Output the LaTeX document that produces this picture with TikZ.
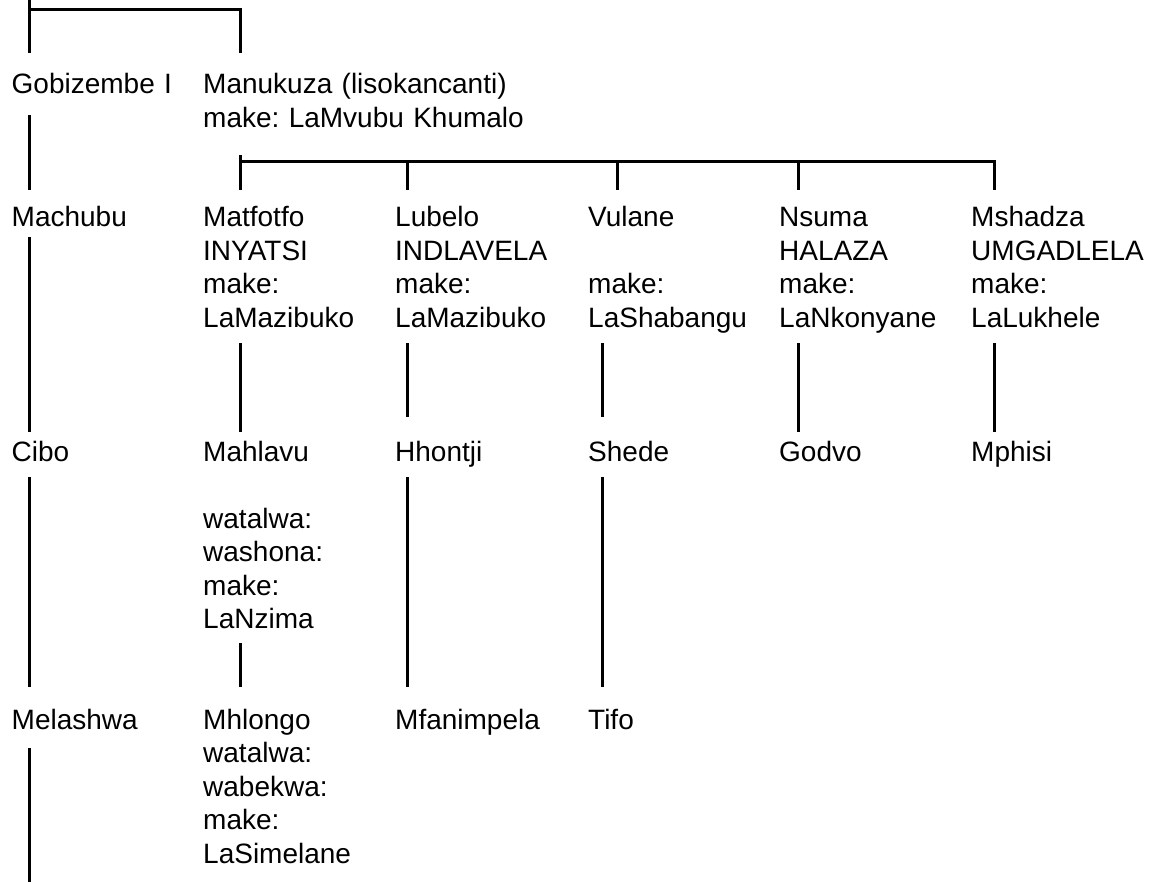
\documentclass[tikz,border=0pt]{standalone}
\usepackage{fontspec}
\setmainfont{Liberation Sans}
\frenchspacing
\tikzset{
	person/.style={anchor=base west, inner sep=0pt, align=left, text width=330pt,
		font=\fontsize{28}{33.5}\selectfont,
		execute at begin node=\strut, execute at end node=\strut},
	link/.style={line width=3pt}
}

\begin{document}
\begin{tikzpicture}[x=1pt,y=-1pt]
		\useasboundingbox (0,0) rectangle (1159,882);
		% First generation
		\node[person] (gob) at (11.5,94) {Gobizembe I};
		\node[person] (manu) at (203,94) {Manukuza (lisokancanti)\\make: LaMvubu Khumalo};
		% Second generation
		\node[person] (mach) at (11.5,227) {Machubu};
		\node[person] (mat) at (203,227) {Matfotfo\\INYATSI\\make:\\LaMazibuko};
		\node[person] (lub) at (395,227) {Lubelo\\INDLAVELA\\make:\\LaMazibuko};
		\node[person] (vul) at (588,227) {Vulane\\\mbox{}\\make:\\LaShabangu};
		\node[person] (nsu) at (779,227) {Nsuma\\HALAZA\\make:\\LaNkonyane};
		\node[person] (msh) at (971,227) {Mshadza\\UMGADLELA\\make:\\LaLukhele};
		% Third generation
		\node[person] (cibo) at (11.5,461) {Cibo};
		\node[person] (mahl) at (203,461) {Mahlavu\\\mbox{}\\watalwa:\\washona:\\make:\\LaNzima};
		\node[person] (hho) at (395,461) {Hhontji};
		\node[person] (she) at (588,461) {Shede};
		\node[person] (god) at (779,461) {Godvo};
		\node[person] (mph) at (971,461) {Mphisi};
		% Fourth generation
		\node[person] (mel) at (11.5,729) {Melashwa};
		\node[person] (mhl) at (203,729) {Mhlongo\\watalwa:\\wabekwa:\\make:\\LaSimelane};
		\node[person] (mfa) at (395,729) {Mfanimpela};
		\node[person] (tif) at (588,729) {Tifo};

		% Open ends of the left line
		\coordinate (root) at (29,0);
		\coordinate (stub) at (29,882);

		% Draw the lines
		\draw[link] (root) -- ([shift={(17.5,-17.5)}]gob.north west);
		\draw[link] ([shift={(0,10)}]root) -| ([shift={(37,-17.5)}]manu.north west);
		\draw[link] ([shift={(17.5,11)}]gob.south west) -- ([shift={(17.5,-13.5)}]mach.north west);
		\draw[link] ([shift={(37,17.5)}]manu.south west) -- ([shift={(37,-13.5)}]mat.north west);
		\draw[link] ([shift={(37,23.5)}]manu.south west) -| ([shift={(23,-13.5)}]msh.north west);
		\foreach \n/\dx in {lub/12, vul/29, nsu/19}
			\draw[link] ([shift={(\dx,-42.5)}]\n.north west) -- ([shift={(\dx,-13.5)}]\n.north west);
		\foreach \a/\b/\dx/\s/\e in {mach/cibo/17.5/0/5.5, cibo/mel/17.5/6/18.5,
				mat/mahl/37/5.5/5.5, mahl/mhl/37/4.5/18.5,
				lub/hho/12/5.5/20.5, hho/mfa/12/6/18.5,
				vul/she/14/5.5/20.5, she/tif/14/6/18.5,
				nsu/god/19/5.5/5.5, msh/mph/23/5.5/5.5}
			\draw[link] ([shift={(\dx,\s)}]\a.south west) -- ([shift={(\dx,-\e)}]\b.north west);
		\draw[link] ([shift={(17.5,9)}]mel.south west) -- (stub);
	\end{tikzpicture}
\end{document}
